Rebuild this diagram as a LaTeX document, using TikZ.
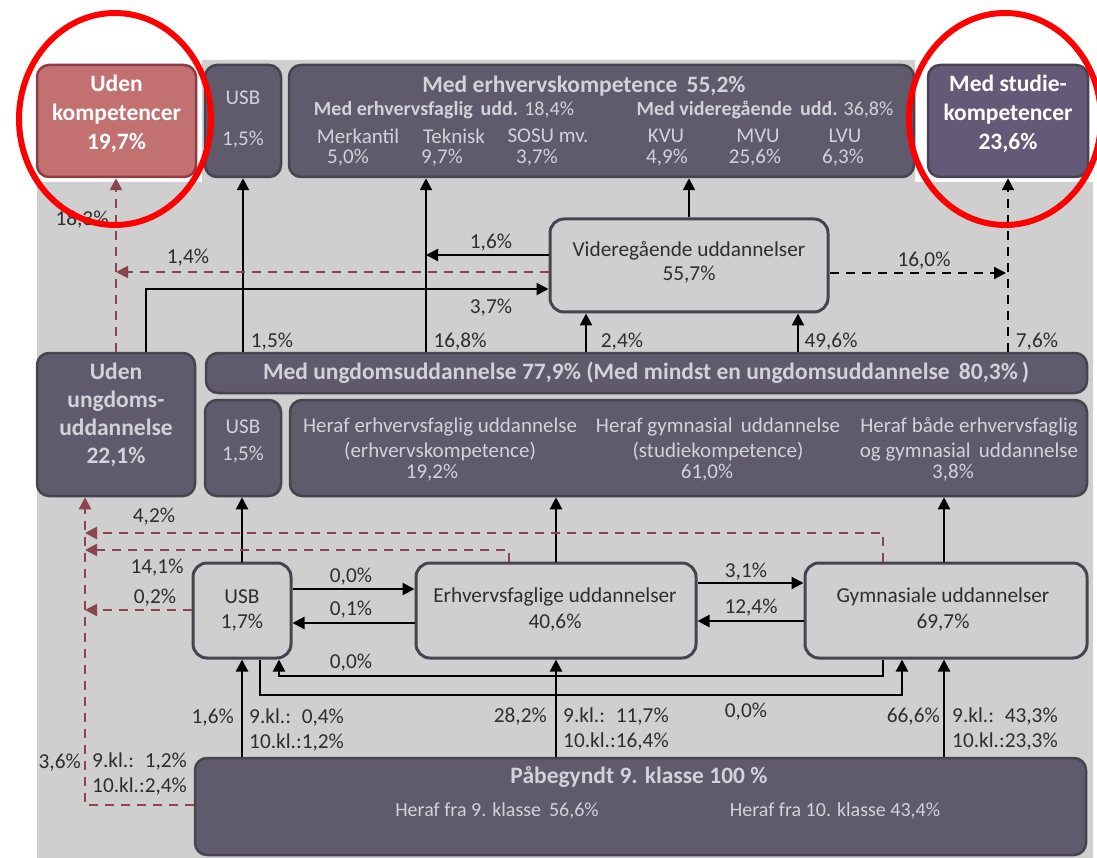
\documentclass[tikz,border=0pt]{standalone}
\usepackage{fontspec}
\setmainfont{Carlito}
\usetikzlibrary{arrows.meta}
\definecolor{bggray}{HTML}{CFCFCF}
\definecolor{boxfill}{HTML}{5F5A6C}
\definecolor{boxline}{HTML}{46444E}
\definecolor{redfill}{HTML}{C27070}
\definecolor{redline}{HTML}{8E3C46}
\definecolor{studfill}{HTML}{645A78}
\definecolor{boxtext}{HTML}{D2D2DA}
\definecolor{lbl}{HTML}{2E2E2E}
\definecolor{dashred}{HTML}{8A4550}
\begin{document}
\begin{tikzpicture}[x=1pt,y=-1pt,>={Triangle[length=12pt,width=12pt]},
  dk/.style={draw=boxline,line width=2.5pt,fill=boxfill,rounded corners=12pt,inner sep=0pt},
  lt/.style={draw=boxline,line width=3pt,fill=bggray,rounded corners=14pt,inner sep=0pt},
  tx/.style={text=boxtext,font=\fontsize{21}{24}\selectfont,inner sep=0pt},
  bt/.style={text=white,font=\fontsize{23.5}{29}\selectfont\bfseries,align=center,inner sep=0pt},
  dt/.style={text=lbl,font=\fontsize{21.3}{25}\selectfont,inner sep=0pt},
  arr/.style={->,line width=2.2pt,black},
  rd/.style={->,line width=2.2pt,dashred,dash pattern=on 9pt off 7pt},
  bd/.style={->,line width=2.2pt,black,dash pattern=on 9pt off 7pt}]
\useasboundingbox (0,0) rectangle (1097,858);
\fill[bggray] (37,182) -- (202,182) -- (202,60) -- (915,60) -- (915,182) -- (1093,182) -- (1093,858) -- (37,858) -- cycle;
% boxes
\node[dk,draw=redline,fill=redfill,minimum width=159pt,minimum height=112pt] (ukomp) at (116.5,121) {};
\node[dk,minimum width=76pt,minimum height=112pt] (usbA) at (243,121) {};
\node[dk,minimum width=625pt,minimum height=112pt] (erhv) at (601.5,121) {};
\node[dk,fill=studfill,minimum width=160pt,minimum height=112pt] (studie) at (1008,121) {};
\node[lt,minimum width=278pt,minimum height=93pt] (vu) at (689,265.5) {};
\node[dk,minimum width=158pt,minimum height=143pt] (uu) at (116,424.5) {};
\node[dk,minimum width=881pt,minimum height=40pt] (bar) at (646.5,373) {};
\node[dk,minimum width=76pt,minimum height=96pt] (usbB) at (243,448) {};
\node[dk,minimum width=797pt,minimum height=96pt] (heraf) at (688.5,448) {};
\node[lt,minimum width=98pt,minimum height=95pt] (usbC) at (242,610.5) {};
\node[lt,minimum width=280pt,minimum height=95pt] (ef) at (556,610.5) {};
\node[lt,minimum width=282pt,minimum height=95pt] (gym) at (946,610.5) {};
\node[dk,minimum width=891pt,minimum height=97pt] (paab) at (640.5,806.5) {};
% box texts
\node[bt] at (116.5,114) {Uden\\kompetencer\\19,7\%};
\node[bt] at (1008,114) {Med studie-\\kompetencer\\23,6\%};
\node[tx] at (243,98) {USB};
\node[tx] at (243,140) {1,5\%};
\node[tx,font=\fontsize{23.5}{24}\selectfont\bfseries] at (584,86) {Med erhvervskompetence\, 55,2\%};
\node[tx,font=\fontsize{20}{24}\selectfont] at (444,110) {\textbf{Med erhvervsfaglig\, udd.} 18,4\%};
\node[tx,font=\fontsize{20}{24}\selectfont] at (765,110) {\textbf{Med videregående\, udd.} 36,8\%};
\node[tx] at (358,136) {Merkantil};
\node[tx] at (454,136) {Teknisk};
\node[tx] at (548,136) {SOSU mv.};
\node[tx] at (666,136) {KVU};
\node[tx] at (758,136) {MVU};
\node[tx] at (845,136) {LVU};
\node[tx] at (348,158) {5,0\%};
\node[tx] at (442,158) {9,7\%};
\node[tx] at (537,158) {3,7\%};
\node[tx] at (667,158) {4,9\%};
\node[tx] at (755,158) {25,6\%};
\node[tx] at (843,158) {6,3\%};
\node[dt] at (689,251) {Videregående uddannelser};
\node[dt] at (689,275) {55,7\%};
\node[bt,text=boxtext,font=\fontsize{23.5}{28}\selectfont\bfseries] at (116,415) {Uden\\ungdoms-\\uddannelse\\22,1\%};
\node[bt,text=boxtext] at (646,373) {Med ungdomsuddannelse 77,9\% (Med mindst en ungdomsuddannelse\, 80,3\%\,)};
\node[tx] at (243,427) {USB};
\node[tx] at (243,455) {1,5\%};
\node[tx] at (440,427) {Heraf erhvervsfaglig uddannelse};
\node[tx] at (440,452) {(erhvervskompetence)};
\node[tx] at (432,473) {19,2\%};
\node[tx] at (718,427) {Heraf gymnasial\, uddannelse};
\node[tx] at (718,452) {(studiekompetence)};
\node[tx] at (707,473) {61,0\%};
\node[tx] at (969,427) {Heraf både erhvervsfaglig};
\node[tx] at (969,452) {og gymnasial\, uddannelse};
\node[tx] at (953,473) {3,8\%};
\node[dt] at (242,597) {USB};
\node[dt] at (242,623) {1,7\%};
\node[dt] at (555,597) {Erhvervsfaglige uddannelser};
\node[dt] at (555,623) {40,6\%};
\node[dt] at (943,597) {Gymnasiale uddannelser};
\node[dt] at (943,623) {69,7\%};
\node[bt,text=boxtext] at (639,777) {Påbegyndt 9. klasse 100 \%};
\node[tx,font=\fontsize{20}{24}\selectfont] at (497,811) {Heraf fra 9. klasse\, 56,6\%};
\node[tx,font=\fontsize{20}{24}\selectfont] at (835,811) {Heraf fra 10. klasse 43,4\%};
% coordinates
\coordinate (xTek) at (426,0);
\coordinate (c37) at (146,289);
\coordinate (x24) at (586,0);
\coordinate (x49) at (798,0);
\coordinate (y16) at (0,255);
\coordinate (y14) at (0,272);
\coordinate (y160) at (0,273);
\coordinate (xG) at (944,0);
\coordinate (x42) at (883,533);
\coordinate (x141) at (509,550);
\coordinate (xL) at (85,0);
\coordinate (y02) at (0,610);
\coordinate (y36) at (0,805);
\coordinate (y00) at (0,589);
\coordinate (y01) at (0,623);
\coordinate (y31) at (0,583);
\coordinate (y124) at (0,621);
\coordinate (lpA) at (279,676);
\coordinate (lpB) at (260,695);
\coordinate (xGb) at (902,0);
% upper connectors
\draw[arr] (bar.north -| usbA.south) -- (usbA.south);
\draw[arr] (bar.north -| xTek) -- (erhv.south -| xTek);
\draw[arr] (vu.north) -- (erhv.south -| vu.north);
\draw[arr] (vu.west |- y16) -- (xTek |- y16);
\draw[rd] (vu.west |- y14) -- (uu.north |- y14);
\draw[rd] (uu.north) -- (ukomp.south -| uu.north);
\draw[arr] (uu.north -| c37) -- (c37) -- (vu.west |- c37);
\draw[arr] (bar.north -| x24) -- (vu.south -| x24);
\draw[arr] (bar.north -| x49) -- (vu.south -| x49);
\draw[bd,shorten >=2pt] (vu.east |- y160) -- (studie.south |- y160);
\draw[bd] (bar.north -| studie.south) -- (studie.south);
% middle connectors
\draw[arr] (usbC.north) -- (usbB.south -| usbC.north);
\draw[arr] (ef.north) -- (heraf.south -| ef.north);
\draw[arr] (gym.north -| xG) -- (heraf.south -| xG);
\draw[rd] (gym.north -| x42) -- (x42) -- (xL |- x42);
\draw[rd] (ef.north -| x141) -- (x141) -- (xL |- x141);
\draw[rd] (usbC.west |- y02) -- (xL |- y02);
\draw[rd] (paab.west |- y36) -- (xL |- y36) -- (uu.south -| xL);
\draw[arr] (usbC.east |- y00) -- (ef.west |- y00);
\draw[arr] (ef.west |- y01) -- (usbC.east |- y01);
\draw[arr] (ef.east |- y31) -- (gym.west |- y31);
\draw[arr] (gym.west |- y124) -- (ef.east |- y124);
\draw[arr] (gym.south -| x42) -- (x42 |- lpA) -- (lpA) -- (usbC.south -| lpA);
\draw[arr] (usbC.south -| lpB) -- (lpB) -- (xGb |- lpB) -- (gym.south -| xGb);
\draw[arr] (paab.north -| usbC.south) -- (usbC.south);
\draw[arr] (paab.north -| ef.south) -- (ef.south);
\draw[arr] (paab.north -| xG) -- (gym.south -| xG);
% labels
\node[dt] at (82,220) {18,3\%};
\node[dt] at (188,258) {1,4\%};
\node[dt] at (491,243) {1,6\%};
\node[dt] at (491,308) {3,7\%};
\node[dt] at (272,342) {1,5\%};
\node[dt] at (460,342) {16,8\%};
\node[dt] at (622,342) {2,4\%};
\node[dt] at (831,342) {49,6\%};
\node[dt] at (924,261) {16,0\%};
\node[dt] at (1037,342) {7,6\%};
\node[dt] at (154,517) {4,2\%};
\node[dt] at (157,568) {14,1\%};
\node[dt] at (155,598) {0,2\%};
\node[dt] at (351,577) {0,0\%};
\node[dt] at (351,610) {0,1\%};
\node[dt] at (746,572) {3,1\%};
\node[dt] at (751,608) {12,4\%};
\node[dt] at (351,663) {0,0\%};
\node[dt] at (746,712) {0,0\%};
\node[dt,anchor=east] at (234,718) {1,6\%};
\node[dt,anchor=west] at (249,730.5) {\begin{tabular}{@{}l@{}l@{}}9.kl.: & 0,4\%\\10.kl.:&1,2\%\end{tabular}};
\node[dt,anchor=east] at (547,717) {28,2\%};
\node[dt,anchor=west] at (563,730) {\begin{tabular}{@{}l@{}l@{}}9.kl.: & 11,7\%\\10.kl.:&16,4\%\end{tabular}};
\node[dt,anchor=east] at (940,717) {66,6\%};
\node[dt,anchor=west] at (952,730) {\begin{tabular}{@{}l@{}l@{}}9.kl.: & 43,3\%\\10.kl.:&23,3\%\end{tabular}};
\node[dt,anchor=east] at (81,763) {3,6\%};
\node[dt,anchor=west] at (92,774.5) {\begin{tabular}{@{}l@{}l@{}}9.kl.: & 1,2\%\\10.kl.:&2,4\%\end{tabular}};
% red circles
\draw[red,line width=6pt] (115,119) ellipse [x radius=96pt,y radius=106pt];
\draw[red,line width=6pt] (1005,119) ellipse [x radius=96pt,y radius=106pt];
\end{tikzpicture}
\end{document}
